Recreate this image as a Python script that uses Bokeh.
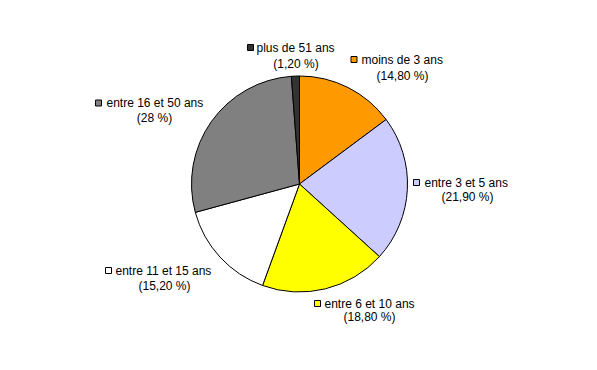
import math
from bokeh.plotting import figure
from bokeh.models import ColumnDataSource, Range1d
from bokeh.embed import file_html
from bokeh.resources import INLINE

categories = ["moins de 3 ans", "entre 3 et 5 ans", "entre 6 et 10 ans",
              "entre 11 et 15 ans", "entre 16 et 50 ans", "plus de 51 ans"]
values = [14.8, 21.9, 18.8, 15.2, 28.0, 1.2]
colors = ["#FF9900", "#CCCCFF", "#FFFF00", "#FFFFFF", "#808080", "#333333"]

W, H = 597, 370
CX, CY, R = 299, H - 183.5, 108

def fmt(v):
    if v == int(v):
        return "(%d %%)" % int(v)
    return "(" + ("%.2f" % v).replace(".", ",") + " %)"

total = sum(values)
starts, ends = [], []
cum = 0.0
for v in values:
    starts.append(math.pi / 2 - 2 * math.pi * cum / total)
    cum += v
    ends.append(math.pi / 2 - 2 * math.pi * cum / total)

p = figure(width=W, height=H, output_backend="svg", toolbar_location=None,
           x_range=Range1d(0, W), y_range=Range1d(0, H),
           min_border=0, min_border_left=0, min_border_right=0,
           min_border_top=0, min_border_bottom=0)
p.axis.visible = False
p.grid.visible = False
p.outline_line_color = None
p.background_fill_color = "white"
p.border_fill_color = "white"

src = ColumnDataSource(dict(start=starts, end=ends, color=colors))
p.wedge(x=CX, y=CY, radius=R, start_angle="start", end_angle="end",
        direction="clock", fill_color="color", line_color="black",
        line_width=1, source=src)

# label layout (pixel positions, top-left origin)
sq_pos = [(353.5, 59), (416, 182), (317, 303), (108, 270), (98, 102.5), (250, 47)]
txt_left = [361, 424, 324, 115, 106, 256]
line2_pos = [(402, 75), (467, 196), (369, 316), (164, 285), (154, 117), (295.5, 63)]

FONT = "Liberation Sans"
FS = "12px"
p.scatter(x=[s[0] for s in sq_pos], y=[H - s[1] for s in sq_pos],
          marker="square", size=6, fill_color=colors, line_color="black",
          line_width=1)
p.text(x=txt_left, y=[H - s[1] for s in sq_pos], text=categories,
       text_font_size=FS, text_align="left", text_baseline="middle",
       text_color="black", text_font={"value": FONT})
p.text(x=[q[0] for q in line2_pos], y=[H - q[1] for q in line2_pos],
       text=[fmt(v) for v in values],
       text_font_size=FS, text_align="center", text_baseline="middle",
       text_color="black", text_font={"value": FONT})

open("out.html", "w").write(file_html(p, INLINE))
